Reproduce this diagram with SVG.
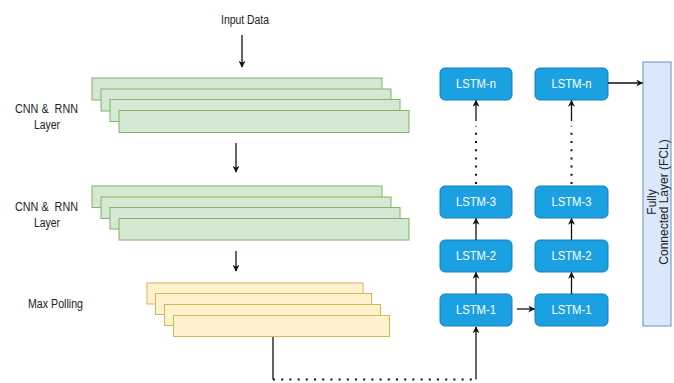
<svg xmlns="http://www.w3.org/2000/svg" width="674" height="383" viewBox="0 0 674 383">
<style>
text{font-family:"Liberation Sans",Arial,sans-serif;font-size:12px;fill:#222}
.g{fill:#d5e8d4;stroke:#82b366;stroke-width:1}
.y{fill:#fff2cc;stroke:#d6b656;stroke-width:1}
.l{fill:#1ba1e2;stroke:#1580c0;stroke-width:1}
.lt{fill:#fff;text-anchor:middle}
.e{fill:none;stroke:#111;stroke-width:1.3}
.d{fill:none;stroke:#111;stroke-width:2;stroke-dasharray:2 6.2}
</style>
<defs>
<marker id="a" viewBox="0 0 10 10" refX="9" refY="5" markerWidth="7" markerHeight="7" markerUnits="userSpaceOnUse" orient="auto">
<path d="M0,0 L10,5 L0,10 L3,5 Z" fill="#111"/>
</marker>
</defs>
<rect width="674" height="383" fill="#fff"/>
<text x="245" y="24" text-anchor="middle" textLength="48" lengthAdjust="spacingAndGlyphs">Input Data</text>

<g id="cnn1">
<rect class="g" x="92" y="78" width="290" height="22"/>
<rect class="g" x="101" y="89" width="290" height="22"/>
<rect class="g" x="110" y="99.5" width="290" height="22"/>
<rect class="g" x="119" y="110.5" width="290" height="22"/>
<text x="46.5" y="113" text-anchor="middle" xml:space="preserve" textLength="63" lengthAdjust="spacingAndGlyphs">CNN &amp;  RNN</text>
<text x="47" y="129" text-anchor="middle" textLength="26" lengthAdjust="spacingAndGlyphs">Layer</text>
</g>
<g id="cnn2">
<rect class="g" x="92" y="186" width="290" height="21.5"/>
<rect class="g" x="101" y="197" width="290" height="21.5"/>
<rect class="g" x="110" y="207.5" width="290" height="21.5"/>
<rect class="g" x="119" y="218.5" width="290" height="21.5"/>
<text x="46.5" y="211" text-anchor="middle" xml:space="preserve" textLength="63" lengthAdjust="spacingAndGlyphs">CNN &amp;  RNN</text>
<text x="47" y="227" text-anchor="middle" textLength="26" lengthAdjust="spacingAndGlyphs">Layer</text>
</g>
<g id="pool">
<rect class="y" x="147" y="283" width="216" height="21"/>
<rect class="y" x="155.5" y="293.5" width="216" height="21"/>
<rect class="y" x="164.5" y="304.5" width="216" height="21"/>
<rect class="y" x="173.5" y="315.5" width="216" height="21"/>
<text x="28" y="308" textLength="55" lengthAdjust="spacingAndGlyphs">Max Polling</text>
</g>

<g id="c1n"><rect class="l" x="440" y="68" width="72" height="32" rx="5"/><text class="lt" x="476" y="88" textLength="40" lengthAdjust="spacingAndGlyphs">LSTM-n</text></g>
<g id="c13"><rect class="l" x="440" y="186" width="72" height="32" rx="5"/><text class="lt" x="476" y="206" textLength="40" lengthAdjust="spacingAndGlyphs">LSTM-3</text></g>
<g id="c12"><rect class="l" x="440" y="240" width="72" height="32" rx="5"/><text class="lt" x="476" y="260" textLength="40" lengthAdjust="spacingAndGlyphs">LSTM-2</text></g>
<g id="c11"><rect class="l" x="440" y="294" width="72" height="32" rx="5"/><text class="lt" x="476" y="314" textLength="40" lengthAdjust="spacingAndGlyphs">LSTM-1</text></g>

<g id="c2n"><rect class="l" x="535" y="68" width="73" height="32" rx="5"/><text class="lt" x="571.5" y="88" textLength="40" lengthAdjust="spacingAndGlyphs">LSTM-n</text></g>
<g id="c23"><rect class="l" x="535" y="186" width="73" height="32" rx="5"/><text class="lt" x="571.5" y="206" textLength="40" lengthAdjust="spacingAndGlyphs">LSTM-3</text></g>
<g id="c22"><rect class="l" x="535" y="240" width="73" height="32" rx="5"/><text class="lt" x="571.5" y="260" textLength="40" lengthAdjust="spacingAndGlyphs">LSTM-2</text></g>
<g id="c21"><rect class="l" x="535" y="294" width="73" height="32" rx="5"/><text class="lt" x="571.5" y="314" textLength="40" lengthAdjust="spacingAndGlyphs">LSTM-1</text></g>

<g id="fcl">
<rect x="643" y="62" width="28" height="264" fill="#dae8fc" stroke="#6c8ebf" stroke-width="1"/>
<text transform="translate(656,202) rotate(-90)" text-anchor="middle">Fully</text>
<text transform="translate(668,202) rotate(-90)" text-anchor="middle">Connected Layer (FCL)</text>
</g>

<g id="connectors">
<path class="e" d="M242,35 V67" marker-end="url(#a)"/>
<path class="e" d="M236,143 V172" marker-end="url(#a)"/>
<path class="e" d="M236,251 V271" marker-end="url(#a)"/>
<path class="e" d="M273,337 V379.5"/>
<path class="d" d="M273,379.5 H476"/>
<path class="e" d="M476,379.5 V327" marker-end="url(#a)"/>
<path class="e" d="M476,294 V272.5" marker-end="url(#a)"/>
<path class="e" d="M476,240 V218.5" marker-end="url(#a)"/>
<path class="d" d="M476,184 V126"/>
<path class="e" d="M476,121 V100.5" marker-end="url(#a)"/>
<path class="e" d="M517,309 H534.5" marker-end="url(#a)"/>
<path class="e" d="M571.5,294 V272.5" marker-end="url(#a)"/>
<path class="e" d="M571.5,240 V218.5" marker-end="url(#a)"/>
<path class="d" d="M571.5,184 V126"/>
<path class="e" d="M571.5,121 V100.5" marker-end="url(#a)"/>
<path class="e" d="M608,83 H642.5" marker-end="url(#a)"/>
</g>
</svg>
